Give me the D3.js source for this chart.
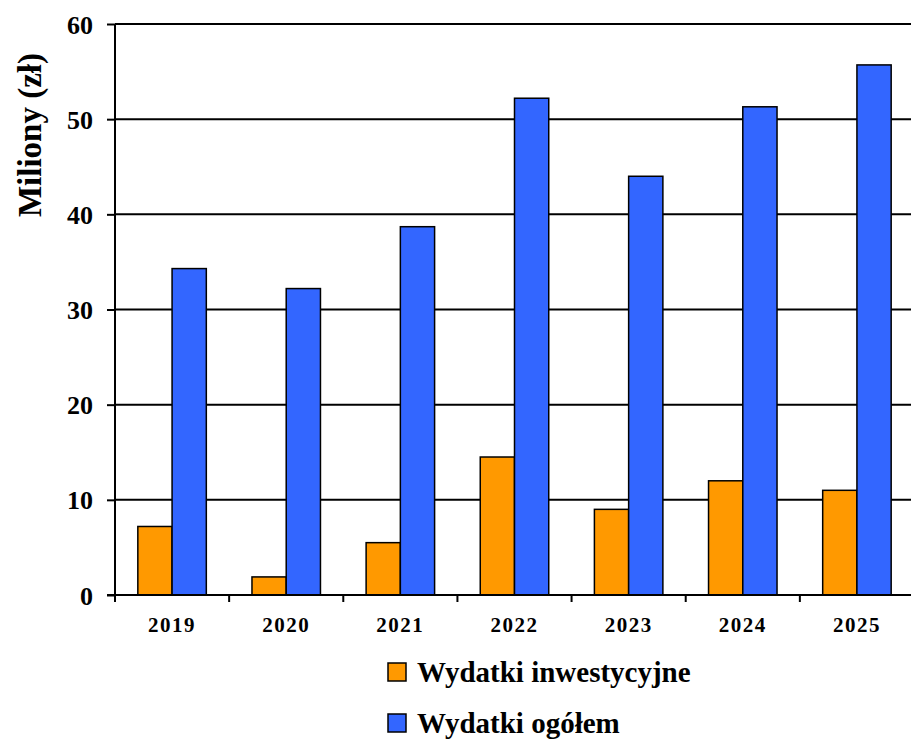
<!DOCTYPE html>
<html>
<head>
<meta charset="utf-8">
<script src="https://cdn.jsdelivr.net/npm/d3@7"></script>
<style>
  body { margin: 0; background: #fff; }
  text { font-family: "Liberation Serif", "Times New Roman", serif; font-weight: bold; fill: #000; }
</style>
</head>
<body>
<div id="chart"></div>
<script>
/* global d3 */

var years = ["2019", "2020", "2021", "2022", "2023", "2024", "2025"];
var seriesNames = ["Wydatki inwestycyjne", "Wydatki ogółem"];
var investValues = [7.2, 1.9, 5.5, 14.5, 9.0, 12.0, 11.0];
var totalValues = [34.3, 32.2, 38.7, 52.2, 44.0, 51.3, 55.7];
var seriesColors = ["#FF9900", "#3366FF"];
var yTicks = [0, 10, 20, 30, 40, 50, 60];

var W = 911, H = 740;
var margin = { top: 24, right: -3, bottom: 145, left: 115 };
var width = W - margin.left - margin.right;
var height = H - margin.top - margin.bottom;

var svg = d3.select("#chart").append("svg")
  .attr("width", W)
  .attr("height", H);

var g = svg.append("g")
  .attr("transform", "translate(" + margin.left + "," + margin.top + ")");

/* scales */
var x0 = d3.scaleBand().domain(years).range([0, width])
  .paddingInner(0.4).paddingOuter(0.2);
var x1 = d3.scaleBand().domain([0, 1]).range([0, x0.bandwidth()]);
var y = d3.scaleLinear().domain([0, 60]).range([height, 0]);

var step = x0.step();

/* grid lines */
g.selectAll(".grid").data(yTicks.slice(1))
  .enter().append("line")
  .attr("x1", 0).attr("x2", width)
  .attr("y1", function(d) { return y(d); })
  .attr("y2", function(d) { return y(d); })
  .attr("stroke", "#000").attr("stroke-width", 2);

/* bars */
var data = years.map(function(yr, i) {
  return { year: yr, vals: [investValues[i], totalValues[i]] };
});

var grp = g.selectAll(".grp").data(data)
  .enter().append("g")
  .attr("transform", function(d) { return "translate(" + x0(d.year) + ",0)"; });

grp.selectAll("rect").data(function(d) { return d.vals; })
  .enter().append("rect")
  .attr("x", function(d, i) { return x1(i); })
  .attr("y", function(d) { return y(d); })
  .attr("width", x1.bandwidth())
  .attr("height", function(d) { return height - y(d); })
  .attr("fill", function(d, i) { return seriesColors[i]; })
  .attr("stroke", "#000").attr("stroke-width", 1.5);

/* y axis */
var yAxis = g.append("g")
  .call(d3.axisLeft(y).tickValues(yTicks).tickSize(8).tickPadding(14).tickFormat(d3.format("d")));
yAxis.select(".domain").remove();
yAxis.selectAll(".tick line").attr("stroke", "#000").attr("stroke-width", 2);
yAxis.selectAll("text").style("font-size", "26px").attr("dy", "0.35em");

g.append("line")
  .attr("x1", 0).attr("x2", 0).attr("y1", 0).attr("y2", height + 7)
  .attr("stroke", "#000").attr("stroke-width", 2);
g.append("line")
  .attr("x1", -8).attr("x2", width).attr("y1", height).attr("y2", height)
  .attr("stroke", "#000").attr("stroke-width", 2);

/* x axis ticks between categories */
g.selectAll(".xtick").data(years)
  .enter().append("line")
  .attr("x1", function(d) { return x0(d) + x0.bandwidth() / 2 + step / 2; })
  .attr("x2", function(d) { return x0(d) + x0.bandwidth() / 2 + step / 2; })
  .attr("y1", height).attr("y2", height + 7)
  .attr("stroke", "#000").attr("stroke-width", 2);

g.selectAll(".xlab").data(years)
  .enter().append("text")
  .attr("x", function(d) { return x0(d) + x0.bandwidth() / 2; })
  .attr("y", height + 37)
  .attr("text-anchor", "middle")
  .style("font-size", "21px")
  .style("letter-spacing", "1.5px")
  .text(function(d) { return d; });

/* y title */
svg.append("text")
  .attr("transform", "translate(41,135) rotate(-90)")
  .attr("text-anchor", "middle")
  .style("font-size", "33px")
  .text("Miliony (zł)");

/* legend */
var legend = svg.selectAll(".legend").data(seriesNames)
  .enter().append("g")
  .attr("transform", function(d, i) { return "translate(388," + (663 + i * 51) + ")"; });

legend.append("rect")
  .attr("width", 18).attr("height", 18)
  .attr("fill", function(d, i) { return seriesColors[i]; })
  .attr("stroke", "#000").attr("stroke-width", 1.5);

legend.append("text")
  .attr("x", 29).attr("y", 19)
  .style("font-size", "29px")
  .text(function(d) { return d; });
</script>
</body>
</html>
